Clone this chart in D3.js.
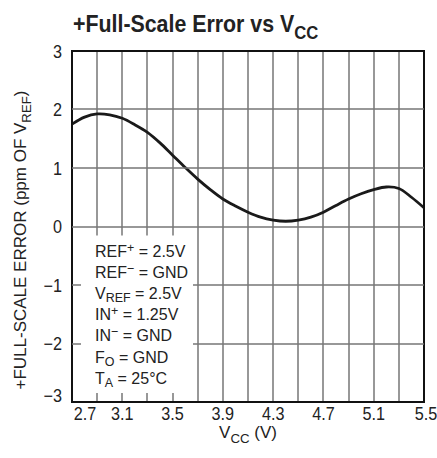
<!DOCTYPE html>
<html>
<head>
<meta charset="utf-8">
<script src="https://cdn.jsdelivr.net/npm/d3@7"></script>
<style>
  body { margin: 0; background: #fff; }
  svg text { font-family: "Liberation Sans", Arial, sans-serif; fill: #222; }
</style>
</head>
<body>
<div id="chart"></div>
<script>
// data
let vcc = [2.7, 2.8, 2.9, 3.0, 3.1, 3.2, 3.3, 3.4, 3.5, 3.6, 3.7, 3.8, 3.9, 4.0, 4.1,
           4.2, 4.3, 4.4, 4.5, 4.6, 4.7, 4.8, 4.9, 5.0, 5.1, 5.2, 5.3, 5.4, 5.5];
let fsError = [1.75, 1.87, 1.925, 1.91, 1.85, 1.74, 1.61, 1.43, 1.22, 1.01, 0.81, 0.63, 0.47, 0.35, 0.245,
               0.16, 0.11, 0.09, 0.11, 0.16, 0.245, 0.36, 0.47, 0.56, 0.63, 0.675, 0.65, 0.50, 0.32];
let xTicks = [2.7, 3.1, 3.5, 3.9, 4.3, 4.7, 5.1, 5.5];
let xGrid = [2.9, 3.1, 3.3, 3.5, 3.7, 3.9, 4.1, 4.3, 4.5, 4.7, 4.9, 5.1, 5.3];
let yTicks = [-3, -2, -1, 0, 1, 2, 3];
let yGrid = [-2, -1, 0, 1, 2];
let legendLines = [
    [["REF"], ["+", "sup"], [" = 2.5V"]],
    [["REF"], ["\u2212", "sup"], [" = GND"]],
    [["V"], ["REF", "sub"], [" = 2.5V"]],
    [["IN"], ["+", "sup"], [" = 1.25V"]],
    [["IN"], ["\u2212", "sup"], [" = GND"]],
    [["F"], ["O", "sub"], [" = GND"]],
    [["T"], ["A", "sub"], [" = 25\u00b0C"]]
];

let width = 437, height = 458;
let margin = { top: 51, right: 13, bottom: 56, left: 72 };
let w = width - margin.left - margin.right;
let h = height - margin.top - margin.bottom;

let x = d3.scaleLinear().domain([2.7, 5.5]).range([0, w]);
let y = d3.scaleLinear().domain([-3, 3]).range([h, 0]);

let svg = d3.select("#chart").append("svg")
    .attr("width", width)
    .attr("height", height);

let g = svg.append("g")
    .attr("transform", "translate(" + margin.left + "," + margin.top + ")");

// legend box sits in the lower-left corner, grid is cut around it
let boxRight = Math.round(x(3.7)) - 5;
let tickLen = 9;
let gridColor = "#777";
let gw = 1.5;

// vertical grid, cut to short ticks above the legend box
let vsegs = [];
xGrid.forEach(function (d) {
    let gx = Math.round(x(d)) - gw / 2;
    vsegs.push([gx, 0, gw, d < 3.7 ? y(0) + tickLen : h]);
    if (d < 3.7) vsegs.push([gx, h - tickLen, gw, tickLen]);
});

g.selectAll("rect.vgrid")
    .data(vsegs)
    .join("rect")
    .attr("class", "vgrid")
    .attr("x", d => d[0])
    .attr("y", d => d[1])
    .attr("width", d => d[2])
    .attr("height", d => d[3])
    .attr("fill", gridColor);

// curve
let curveLine = d3.line()
    .x((d, i) => x(vcc[i]))
    .y(d => y(d))
    .curve(d3.curveCatmullRom.alpha(0.5));

g.append("path")
    .datum(fsError)
    .attr("d", curveLine)
    .attr("fill", "none")
    .attr("stroke", "#1a1a1a")
    .attr("stroke-width", 2.8);

// condensed look: scale text horizontally
function placeText(parent, tx, ty, sx, anchor, size) {
    return parent.append("text")
        .attr("transform", "translate(" + tx + "," + ty + ") scale(" + sx + ",1)")
        .attr("text-anchor", anchor)
        .style("font-size", size + "px");
}

function richText(sel, parts, size, subShift, supShift) {
    subShift = subShift || 0.28;
    supShift = supShift || 0.36;
    let shift = 0;
    parts.forEach(p => {
        let t = sel.append("tspan").text(p[0]);
        let target = 0;
        if (p[1] === "sub") {
            t.style("font-size", (size * 0.78) + "px");
            target = size * subShift;
        } else if (p[1] === "sup") {
            t.style("font-size", (size * 0.78) + "px");
            target = -size * supShift;
        }
        if (target !== shift) t.attr("dy", target - shift);
        shift = target;
    });
}

// tick labels
yTicks.forEach(function (d) {
    placeText(g, -10, y(d) + (d === -3 ? -7 : 0) + 6.5, 0.9, "end", 18)
        .text(d < 0 ? "\u2212" + Math.abs(d) : d);
});

xTicks.forEach(function (d, i) {
    let off = i === 0 ? 13 : (i === xTicks.length - 1 ? 2 : 0);
    placeText(g, x(d) + off, h + 18, 0.9, "middle", 18).text(d.toFixed(1));
});

// legend text
legendLines.forEach(function (d, i) {
    let t = placeText(g, 23, y(0) + 30 + i * 21.2, 0.97, "start", 16.5);
    richText(t, d, 16.5, 0.2, 0.3);
});

// title
let title = placeText(svg, 73, 32, 0.89, "start", 24).style("font-weight", "bold");
richText(title, [["+Full-Scale Error vs V"], ["CC", "sub"]], 24);

// axis titles
let xTitle = placeText(svg, margin.left + w / 2, 438, 1, "middle", 17);
richText(xTitle, [["V"], ["CC", "sub"], [" (V)"]], 17);

let yTitle = svg.append("text")
    .attr("transform", "translate(26,240) rotate(-90)")
    .attr("text-anchor", "middle")
    .style("font-size", "17px");
richText(yTitle, [["+FULL-SCALE ERROR (ppm OF V"], ["REF", "sub"], [")"]], 17);

// horizontal grid drawn last, in plain svg coordinates
let hsegs = [];
yGrid.forEach(function (d) {
    let gy = margin.top + Math.round(y(d)) - gw / 2;
    let left = d < 0 ? boxRight : 0;
    hsegs.push([margin.left + left, gy, w - left, gw]);
    if (d < 0) hsegs.push([margin.left, gy, tickLen, gw]);
});

svg.selectAll("rect.hgrid")
    .data(hsegs)
    .join("rect")
    .attr("class", "hgrid")
    .attr("x", d => d[0])
    .attr("y", d => d[1])
    .attr("width", d => d[2])
    .attr("height", d => d[3])
    .attr("fill", gridColor);

// frame on top
g.append("rect")
    .attr("width", w).attr("height", h)
    .attr("fill", "none")
    .attr("stroke", "#111").attr("stroke-width", 2);
</script>
</body>
</html>
